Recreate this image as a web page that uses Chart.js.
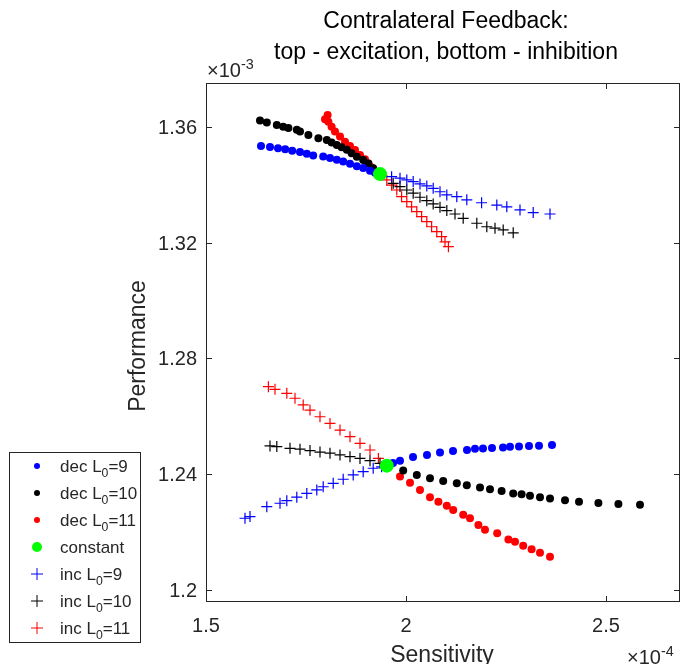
<!DOCTYPE html>
<html>
<head>
  <title>Contralateral Feedback</title>
  <script src="https://cdn.jsdelivr.net/npm/chart.js"></script>
  <style>body { margin: 0; background: #fff; }</style>
</head>
<body>
  <canvas id="feedbackChart" width="681" height="664"></canvas>

  <script>
    // Sensitivity in units of 1e-4, Performance in units of 1e-3
    // [sensitivity, performance] pairs; top cluster = excitation, bottom = inhibition
    const dec9Top = [[1.6375,1.3534],[1.66,1.3531],[1.68,1.3526],[1.698,1.3523],[1.7155,1.3518],[1.735,1.3513],[1.752,1.3507],[1.768,1.3501],[1.793,1.3498],[1.81,1.3493],[1.827,1.3487],[1.843,1.3481],[1.86,1.3473],[1.877,1.3464],[1.893,1.3458],[1.91,1.3449],[1.9225,1.3442]];
    const dec10Top = [[1.635,1.3622],[1.652,1.3615],[1.677,1.3607],[1.693,1.3601],[1.706,1.3596],[1.727,1.359],[1.735,1.3584],[1.756,1.3572],[1.781,1.3561],[1.802,1.3555],[1.814,1.3546],[1.827,1.3538],[1.839,1.353],[1.852,1.3521],[1.864,1.3509],[1.877,1.3497],[1.893,1.3486],[1.906,1.3474],[1.918,1.3457]];
    const dec11Top = [[1.804,1.3641],[1.7975,1.3627],[1.806,1.3618],[1.814,1.3601],[1.8225,1.3584],[1.835,1.3567],[1.8475,1.3549],[1.86,1.3534],[1.8725,1.352],[1.885,1.3503],[1.8975,1.3488],[1.906,1.3474],[1.914,1.346],[1.9225,1.3445]];
    const inc9Top = [[1.964,1.3428],[1.985,1.3423],[2.002,1.3417],[2.018,1.3411],[2.035,1.3403],[2.052,1.3396],[2.068,1.3388],[2.085,1.3376],[2.102,1.3365],[2.127,1.3359],[2.152,1.3348],[2.189,1.3338],[2.227,1.333],[2.252,1.3324],[2.285,1.3313],[2.318,1.3304],[2.36,1.3299]];
    const inc10Top = [[1.968,1.3405],[1.985,1.3394],[2.002,1.3382],[2.018,1.3371],[2.035,1.3357],[2.052,1.3345],[2.068,1.3334],[2.085,1.3322],[2.102,1.3311],[2.1225,1.3299],[2.143,1.3284],[2.177,1.3267],[2.202,1.3255],[2.2225,1.325],[2.243,1.3244],[2.268,1.3234]];
    const inc11Top = [[1.952,1.3417],[1.964,1.3399],[1.977,1.3382],[1.989,1.3359],[2.002,1.3342],[2.014,1.3324],[2.027,1.3307],[2.039,1.329],[2.052,1.3273],[2.064,1.3255],[2.077,1.3238],[2.089,1.3221],[2.0975,1.3203],[2.106,1.3186]];

    const dec9Bot = [[1.9675,1.2438],[1.985,1.2446],[2.0175,1.2459],[2.0525,1.2466],[2.085,1.2474],[2.1175,1.248],[2.1525,1.2483],[2.1725,1.2487],[2.1925,1.2488],[2.215,1.249],[2.2425,1.2492],[2.26,1.2494],[2.2825,1.2495],[2.3075,1.2497],[2.3325,1.2498],[2.365,1.25]];
    const dec10Bot = [[1.993,1.2412],[2.027,1.2397],[2.06,1.2385],[2.093,1.2376],[2.127,1.2368],[2.152,1.2361],[2.185,1.2353],[2.21,1.2347],[2.239,1.2341],[2.268,1.2333],[2.289,1.233],[2.31,1.2325],[2.335,1.232],[2.36,1.2315],[2.3975,1.2309],[2.4325,1.2304],[2.481,1.23],[2.531,1.2296],[2.585,1.2294]];
    const dec11Bot = [[1.985,1.2391],[2.01,1.237],[2.035,1.2345],[2.06,1.232],[2.081,1.2304],[2.102,1.229],[2.118,1.2276],[2.143,1.2259],[2.16,1.2247],[2.181,1.2224],[2.1975,1.2207],[2.228,1.2195],[2.256,1.2174],[2.2725,1.2166],[2.293,1.2152],[2.314,1.214],[2.335,1.2128],[2.36,1.2114]];
    const inc9Bot = [[1.5975,1.2247],[1.61,1.2253],[1.652,1.2287],[1.685,1.2299],[1.702,1.2308],[1.727,1.232],[1.752,1.2333],[1.777,1.2345],[1.793,1.2356],[1.818,1.2368],[1.843,1.2382],[1.868,1.2397],[1.893,1.2408],[1.918,1.242],[1.939,1.2425]];
    const inc10Bot = [[1.66,1.2497],[1.677,1.2495],[1.71,1.2489],[1.735,1.2486],[1.76,1.2481],[1.785,1.2476],[1.81,1.2472],[1.835,1.2466],[1.86,1.246],[1.885,1.2454],[1.91,1.2446],[1.935,1.2437]];
    const inc11Bot = [[1.656,1.2702],[1.6725,1.2693],[1.702,1.2679],[1.7225,1.2662],[1.743,1.2639],[1.76,1.2621],[1.785,1.2598],[1.81,1.2575],[1.835,1.2552],[1.86,1.2529],[1.885,1.2506],[1.91,1.2483],[1.931,1.2454]];

    const constantPts = [[1.935,1.3437],[1.952,1.2429]];

    const xTicks = [1.5, 2, 2.5];
    const yTicks = [1.2, 1.24, 1.28, 1.32, 1.36];
    const legendLabels = ['dec L_0=9', 'dec L_0=10', 'dec L_0=11', 'constant', 'inc L_0=9', 'inc L_0=10', 'inc L_0=11'];

    const toPts = arr => arr.map(p => ({ x: p[0], y: p[1] }));
    const dot = (label, pts, color) => ({
      label, data: toPts(pts), pointStyle: 'circle', pointRadius: 4,
      backgroundColor: color, borderColor: color, borderWidth: 0, order: 2
    });
    const plus = (label, pts, color) => ({
      label, data: toPts(pts), pointStyle: 'cross', pointRadius: 5.5,
      backgroundColor: color, borderColor: color, borderWidth: 1.2, order: 1
    });

    const datasets = [
      dot(legendLabels[0], dec9Top.concat(dec9Bot), '#0000ff'),
      dot(legendLabels[1], dec10Top.concat(dec10Bot), '#000000'),
      dot(legendLabels[2], dec11Top.concat(dec11Bot), '#ff0000'),
      { label: legendLabels[3], data: toPts(constantPts), pointStyle: 'circle', pointRadius: 7,
        backgroundColor: '#00ff00', borderColor: '#00ff00', borderWidth: 0, order: 0 },
      plus(legendLabels[4], inc9Top.concat(inc9Bot), '#0000ff'),
      plus(legendLabels[5], inc10Top.concat(inc10Bot), '#000000'),
      plus(legendLabels[6], inc11Top.concat(inc11Bot), '#ff0000')
    ];

    const font = size => size + 'px "Liberation Sans", Arial, sans-serif';

    // text with a sub (_) or super (^) script part
    function richText(ctx, parts, x, y, size, align) {
      let w = 0;
      parts.forEach(p => { ctx.font = font(p.s ? size * 0.72 : size); w += ctx.measureText(p.t).width; });
      let cx = align === 'center' ? x - w / 2 : (align === 'right' ? x - w : x);
      ctx.textAlign = 'left';
      parts.forEach(p => {
        ctx.font = font(p.s ? size * 0.72 : size);
        const dy = p.s === 'sub' ? size * 0.3 : (p.s === 'sup' ? -size * 0.42 : 0);
        ctx.fillText(p.t, cx, y + dy);
        cx += ctx.measureText(p.t).width;
      });
    }

    const frame = {
      id: 'frame',
      afterDatasetsDraw(chart) {
        const { ctx, chartArea: a, scales: { x, y } } = chart;
        ctx.save();
        ctx.strokeStyle = '#262626';
        ctx.lineWidth = 1;
        ctx.strokeRect(a.left + 0.5, a.top + 0.5, a.right - a.left - 1, a.bottom - a.top - 1);
        ctx.beginPath();
        xTicks.forEach(v => {
          const px = Math.round(x.getPixelForValue(v)) + 0.5;
          ctx.moveTo(px, a.bottom); ctx.lineTo(px, a.bottom - 6);
          ctx.moveTo(px, a.top); ctx.lineTo(px, a.top + 6);
        });
        yTicks.forEach(v => {
          const py = Math.round(y.getPixelForValue(v)) + 0.5;
          ctx.moveTo(a.left, py); ctx.lineTo(a.left + 6, py);
          ctx.moveTo(a.right, py); ctx.lineTo(a.right - 6, py);
        });
        ctx.stroke();

        ctx.fillStyle = '#262626';
        ctx.textBaseline = 'alphabetic';
        ctx.font = font(20);
        ctx.textAlign = 'right';
        yTicks.forEach(v => ctx.fillText(String(v), a.left - 9, y.getPixelForValue(v) + 7));
        ctx.textAlign = 'center';
        xTicks.forEach(v => ctx.fillText(String(v), x.getPixelForValue(v), a.bottom + 30));

        richText(ctx, [{ t: '\u00d710' }, { t: '-3', s: 'sup' }], 207, 77, 20, 'left');
        richText(ctx, [{ t: '\u00d710' }, { t: '-4', s: 'sup' }], 627, 664, 20, 'left');

        ctx.font = font(23);
        ctx.textAlign = 'center';
        ctx.fillText('Sensitivity', 442, 662);
        ctx.save();
        ctx.translate(145, 346);
        ctx.rotate(-Math.PI / 2);
        ctx.fillText('Performance', 0, 0);
        ctx.restore();

        ctx.fillStyle = '#000';
        ctx.font = font(23);
        ctx.fillText('Contralateral Feedback:', 446, 28);
        ctx.fillText('top - excitation, bottom - inhibition', 446, 59);

        // legend
        ctx.fillStyle = '#fff';
        ctx.fillRect(9, 452, 131, 190);
        ctx.strokeStyle = '#262626';
        ctx.strokeRect(9.5, 452.5, 131, 190);
        chart.data.datasets.forEach((ds, i) => {
          const ly = 466 + i * 27;
          ctx.fillStyle = ds.backgroundColor;
          ctx.strokeStyle = ds.borderColor;
          if (ds.pointStyle === 'circle') {
            ctx.beginPath();
            ctx.arc(37, ly, ds.pointRadius > 5 ? 5 : 3, 0, Math.PI * 2);
            ctx.fill();
          } else {
            ctx.beginPath();
            ctx.moveTo(31, ly); ctx.lineTo(43, ly);
            ctx.moveTo(37, ly - 6); ctx.lineTo(37, ly + 6);
            ctx.stroke();
          }
          ctx.fillStyle = '#262626';
          const lbl = ds.label.split('_');
          const parts = lbl.length > 1
            ? [{ t: lbl[0] }, { t: lbl[1][0], s: 'sub' }, { t: lbl[1].slice(1) }]
            : [{ t: lbl[0] }];
          richText(ctx, parts, 60, ly + 6, 17, 'left');
        });
        ctx.restore();
      }
    };

    new Chart(document.getElementById('feedbackChart'), {
      type: 'scatter',
      data: { datasets },
      options: {
        responsive: false,
        animation: false,
        devicePixelRatio: 1,
        layout: { autoPadding: false, padding: { left: 206, right: 1, top: 83, bottom: 62 } },
        scales: {
          x: { type: 'linear', display: false, min: 1.5, max: 2.685 },
          y: { type: 'linear', display: false, min: 1.19575, max: 1.3752 }
        },
        plugins: { legend: { display: false }, tooltip: { enabled: false } }
      },
      plugins: [frame]
    });
  </script>
</body>
</html>
